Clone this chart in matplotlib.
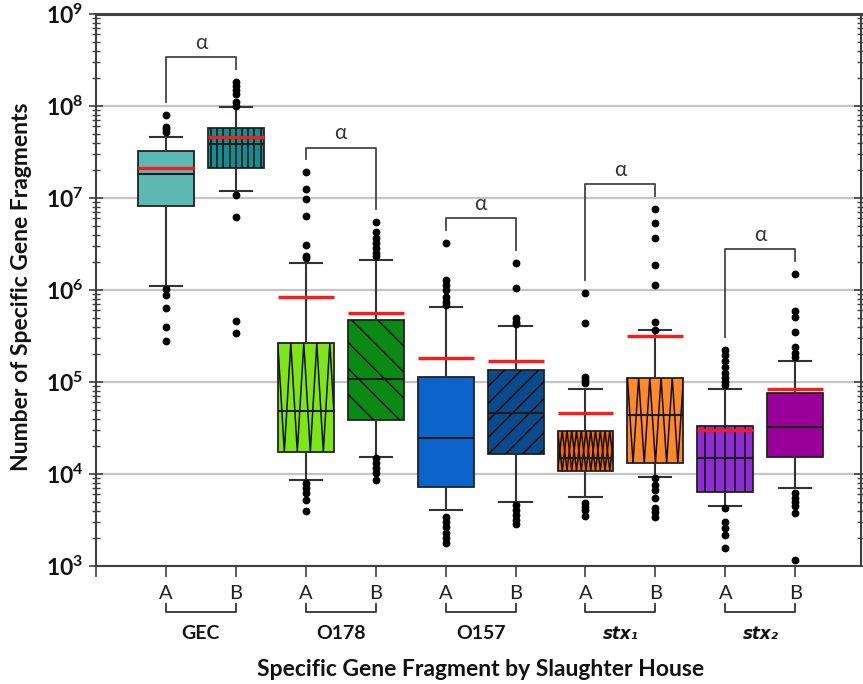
import numpy as np
import matplotlib
matplotlib.use("Agg")
import matplotlib.pyplot as plt
from matplotlib.lines import Line2D
from matplotlib.ticker import FuncFormatter, NullFormatter, FixedLocator
import matplotlib.transforms as mtransforms

plt.rcParams["font.family"] = ["Lato", "DejaVu Sans"]
plt.rcParams["mathtext.fontset"] = "custom"
plt.rcParams["mathtext.rm"] = "Lato"
plt.rcParams["mathtext.bf"] = "Lato:bold"

# ---- data: gene fragment counts per slaughter house (A, B) ----
genes = ["GEC", "O178", "O157", "stx1", "stx2"]
houses = ["A", "B"]

q1 = [8.1e6, 2.13e7, 1.75e4, 3.86e4, 7.2e3, 1.65e4, 1.09e4, 1.31e4, 6.43e3, 1.52e4]
medians = [1.82e7, 3.84e7, 4.84e4, 1.07e5, 2.44e4, 4.64e4, 1.48e4, 4.38e4, 1.48e4, 3.27e4]
q3 = [3.24e7, 5.81e7, 2.64e5, 4.72e5, 1.12e5, 1.35e5, 2.96e4, 1.11e5, 3.33e4, 7.54e4]
means = [2.13e7, 4.64e7, 8.45e5, 5.58e5, 1.84e5, 1.69e5, 4.57e4, 3.16e5, 3.01e4, 8.33e4]
whisker_low = [1.10e6, 1.20e7, 8.5e3, 1.52e4, 4.06e3, 5.0e3, 5.66e3, 9.2e3, 4.49e3, 7.0e3]
whisker_high = [4.57e7, 9.7e7, 1.98e6, 2.12e6, 6.5e5, 4.06e5, 8.33e4, 3.67e5, 8.33e4, 1.71e5]
outliers = [
    [7.98e7, 5.96e7, 5.58e7, 5.22e7, 1.02e6, 8.8e5, 6.4e5, 4.0e5, 2.8e5],
    [1.84e8, 1.65e8, 1.49e8, 1.34e8, 1.11e8, 1.0e8, 1.08e7, 6.2e6, 4.6e5, 3.4e5],
    [1.90e7, 1.25e7, 9.75e6, 6.42e6, 3.08e6, 2.36e6, 2.21e6, 7.9e3, 7.0e3, 6.2e3, 5.2e3, 4.0e3],
    [5.52e6, 4.30e6, 3.65e6, 3.22e6, 2.84e6, 2.50e6, 2.34e6, 1.48e4, 1.31e4, 1.15e4, 1.02e4, 8.6e3],
    [3.27e6, 1.28e6, 1.13e6, 1.0e6, 8.45e5, 7.46e5, 6.87e5, 3.43e3, 3.03e3, 2.67e3, 2.27e3, 2.0e3, 1.77e3],
    [1.98e6, 1.04e6, 4.92e5, 4.52e5, 4.27e5, 4.6e3, 4.06e3, 3.58e3, 3.16e3, 2.86e3],
    [9.35e5, 4.35e5, 1.14e5, 1.05e5, 9.7e4, 4.8e3, 4.4e3, 4.06e3, 3.5e3],
    [7.54e6, 5.31e6, 3.70e6, 1.87e6, 1.13e6, 4.52e5, 3.67e5, 8.97e3, 7.6e3, 6.7e3, 5.45e3, 4.24e3, 3.89e3, 3.43e3],
    [2.23e5, 1.97e5, 1.69e5, 1.47e5, 1.24e5, 1.10e5, 1.01e5, 9.3e4, 4.24e3, 3.03e3, 2.57e3, 2.17e3, 1.56e3],
    [1.49e6, 5.96e5, 5.05e5, 3.52e5, 2.42e5, 2.05e5, 1.88e5, 6.17e3, 5.53e3, 5.0e3, 4.49e3, 3.74e3, 1.16e3],
]
y_decades = [3, 4, 5, 6, 7, 8, 9]

# ---- styling ----
face_colors = ["#5CB8B3", "#178C8E", "#80E41A", "#0A8A14", "#0A64CC",
               "#0B4A8C", "#FF6A06", "#FF8A2E", "#8C2ED0", "#990099"]
# fill pattern for each box: (kind, spacing in pixels)
patterns = [None, ("vert", 6.2), ("zigzag", 13.0), ("back", 26.0), None,
            ("fwd", 17.0), ("diamond", 9.5), ("zigzag", 11.2), ("vert", 10.0), None]

W, H = 863, 684
fig = plt.figure(figsize=(W / 100, H / 100), dpi=100)
ax = fig.add_axes([96 / W, 118 / H, 765 / W, 552 / H])

positions = np.arange(1, len(q1) + 1)
box_w = 0.8

ax.set_yscale("log")
ax.set_ylim(10.0 ** y_decades[0], 10.0 ** y_decades[-1])
ax.set_xlim(0, 10.94)

stats = []
for i in range(len(q1)):
    stats.append(dict(med=medians[i], q1=q1[i], q3=q3[i], mean=means[i],
                      whislo=whisker_low[i], whishi=whisker_high[i],
                      fliers=outliers[i]))

dark = "#333333"
bp = ax.bxp(stats, positions=positions, widths=box_w, capwidths=0.46,
            patch_artist=True, showmeans=True, meanline=True,
            boxprops=dict(edgecolor="#222222", linewidth=1.3),
            whiskerprops=dict(color=dark, linewidth=1.5),
            capprops=dict(color=dark, linewidth=1.5),
            medianprops=dict(color="#1a1a1a", linewidth=1.5, zorder=4),
            meanprops=dict(color="#FF1A1A", linewidth=2.4, linestyle="-", zorder=5),
            flierprops=dict(marker="o", markerfacecolor="black",
                            markeredgecolor="black", markersize=4.6, linestyle="none"))

for patch, c in zip(bp["boxes"], face_colors):
    patch.set_facecolor(c)
    patch.set_zorder(2)

# hatching lines built in pixel space so angles stay fixed on the log axis
to_px = ax.transData
to_data = ax.transData.inverted()

def add_pattern(idx, kind, sp):
    x = positions[idx]
    (xa, ya) = to_px.transform((x - box_w / 2, q1[idx]))
    (xb, yb) = to_px.transform((x + box_w / 2, q3[idx]))
    segs = []
    if kind == "vert":
        n = int((xb - xa) / sp)
        start = xa + ((xb - xa) - (n - 1) * sp) / 2 if n > 0 else xa
        for k in range(n):
            xx = start + k * sp
            segs.append([(xx, ya), (xx, yb)])
    elif kind in ("zigzag", "diamond"):
        phases = [0.0] if kind == "zigzag" else [0.0, 0.5]
        for ph in phases:
            pts = []
            k = 0
            xx = xa - ph * sp
            while xx <= xb + sp:
                yy = yb if (k % 2 == 0) else ya
                pts.append((xx, yy))
                xx += sp / 2
                k += 1
            segs.append(pts)
    elif kind in ("back", "fwd"):
        h = yb - ya
        c = xa - h
        while c < xb + h:
            if kind == "fwd":
                segs.append([(c, ya), (c + h, yb)])
            else:
                segs.append([(c, yb), (c + h, ya)])
            c += sp
    for pts in segs:
        d = to_data.transform(np.array(pts))
        ln = Line2D(d[:, 0], d[:, 1], color="#111111", linewidth=1.1, zorder=3)
        ax.add_line(ln)
        ln.set_clip_path(bp["boxes"][idx])

for i, p in enumerate(patterns):
    if p is not None:
        add_pattern(i, *p)

# significance brackets over each A/B pair
br_color = "#444444"
for g in range(len(genes)):
    ia, ib = 2 * g, 2 * g + 1
    tops = []
    for i in (ia, ib):
        hi = max(outliers[i] + [whisker_high[i]])
        tops.append(hi * 10 ** 0.14)
    ytop = max(tops) * 10 ** 0.13
    ax.plot([positions[ia], positions[ia], positions[ib], positions[ib]],
            [tops[0], ytop, ytop, tops[1]], color=br_color, linewidth=1.3, zorder=3)
    ax.text((positions[ia] + positions[ib]) / 2, ytop * 10 ** 0.155, "α",
            ha="center", va="center", fontsize=15, color="#333333")

# axes, ticks and grid (ticks restricted to the visible decades)
major_y = [10.0 ** d for d in y_decades]
minor_y = [m * 10.0 ** d for d in y_decades[:-1] for m in range(2, 10)]
ax.yaxis.set_major_locator(FixedLocator(major_y))
ax.yaxis.set_minor_locator(FixedLocator(minor_y))
ax.yaxis.set_major_formatter(FuncFormatter(lambda v, p: r"$\mathbf{10^{%d}}$" % round(np.log10(v))))
ax.yaxis.set_minor_formatter(NullFormatter())
ax.tick_params(axis="y", which="major", direction="inout", length=10, width=1.2,
               color="#404040", left=True, right=True, labelsize=16.5, pad=4,
               labelcolor="#111111")
ax.tick_params(axis="y", which="minor", direction="inout", length=6, width=1.0,
               color="#404040", left=True, right=True)
ax.grid(axis="y", which="major", color="#c4c4c4", linewidth=1.6)
ax.set_axisbelow(True)

ax.xaxis.set_major_locator(FixedLocator(list(positions)))
ax.xaxis.set_minor_locator(FixedLocator([0]))
ax.xaxis.set_minor_formatter(NullFormatter())
ax.set_xticklabels(houses * len(genes))
ax.tick_params(axis="x", which="both", direction="out", length=8, width=1.2,
               color="#404040", labelsize=14.5, pad=6, labelcolor="#222222")

for s in ax.spines.values():
    s.set_color("#404040")
    s.set_linewidth(1.5)
ax.spines["top"].set_linewidth(2.2)

# group brackets and gene names beneath the house labels
blend = mtransforms.blended_transform_factory(ax.transData, ax.transAxes)
group_labels = ["GEC", "O178", "O157", "stx₁", "stx₂"]
for g, lab in enumerate(group_labels):
    xa, xb = positions[2 * g], positions[2 * g + 1]
    ax.plot([xa, xa, xb, xb], [-0.069, -0.083, -0.083, -0.069], transform=blend,
            color="#333333", linewidth=1.3, clip_on=False)
    if lab.startswith("stx"):
        ax.text((xa + xb) / 2, -0.123, lab, transform=blend, ha="center", va="center",
                fontsize=12, fontweight="bold", fontstyle="italic",
                family=["DejaVu Sans"], color="#111111")
    else:
        ax.text((xa + xb) / 2, -0.123, lab, transform=blend, ha="center", va="center",
                fontsize=14, fontweight="bold", color="#111111")

ax.text(0.503, -0.188, "Specific Gene Fragment by Slaughter House", transform=ax.transAxes,
        ha="center", va="center", fontsize=16.5, fontweight="bold", color="#111111")
ax.set_ylabel("Number of Specific Gene Fragments", fontsize=16.5, fontweight="bold",
              color="#111111")
ax.yaxis.set_label_coords(-0.084, 0.505)

fig.savefig("out.png", dpi=100)
